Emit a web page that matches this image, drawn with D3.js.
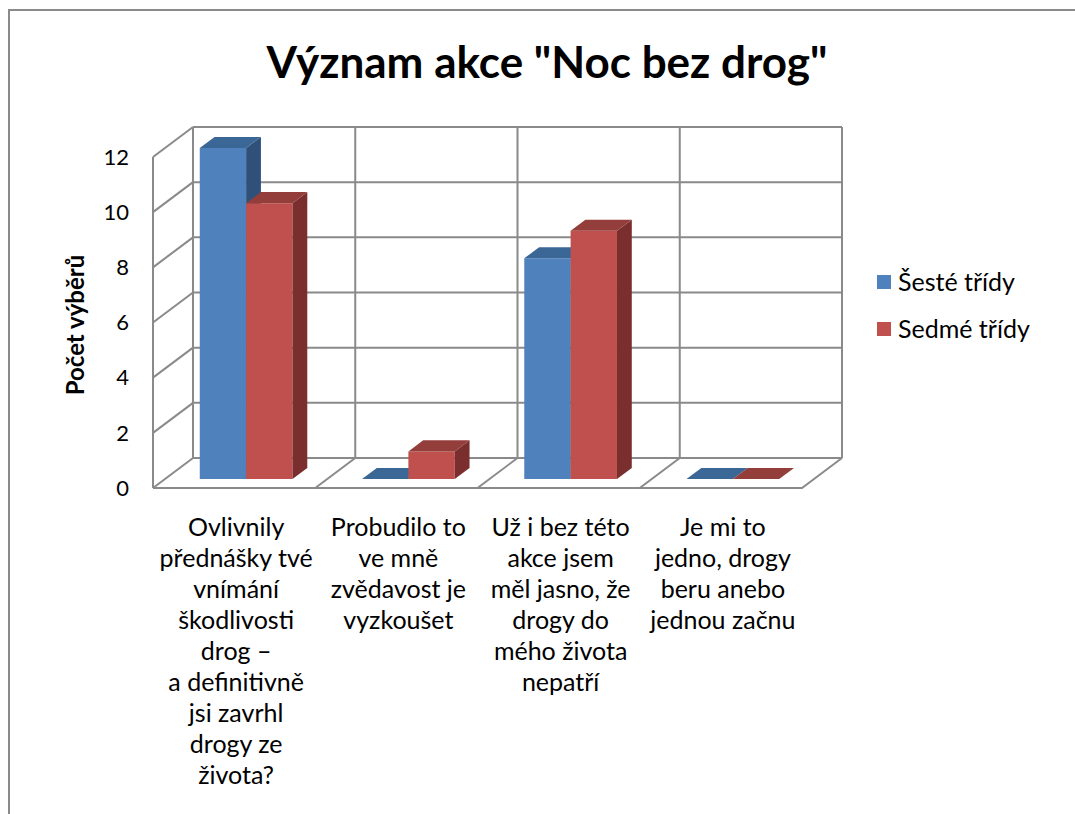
<!DOCTYPE html>
<html lang="cs">
<head>
<meta charset="UTF-8">
<title>Význam akce "Noc bez drog"</title>
<style>
  body { margin: 0; background: #fff; }
  svg { display: block; font-family: Lato, "Open Sans", sans-serif; }
</style>
</head>
<body>
<svg id="chart" width="1075" height="814"></svg>
<script src="https://cdnjs.cloudflare.com/ajax/libs/d3/7.8.5/d3.min.js"></script>
<script>
// ---- data ----
const categories = [
  ["Ovlivnily", "přednášky tvé", "vnímání", "škodlivosti", "drog –", "a definitivně", "jsi zavrhl", "drogy ze", "života?"],
  ["Probudilo to", "ve mně", "zvědavost je", "vyzkoušet"],
  ["Už i bez této", "akce jsem", "měl jasno, že", "drogy do", "mého života", "nepatří"],
  ["Je mi to", "jedno, drogy", "beru anebo", "jednou začnu"]
];
const seriesNames = ["Šesté třídy", "Sedmé třídy"];
const sesteTridy = [12, 0, 8, 0];
const sedmeTridy = [10, 1, 9, 0];
const yTicks = [0, 2, 4, 6, 8, 10, 12];

const series = [
  { name: seriesNames[0], values: sesteTridy, front: "#4f81bd", top: "#3b6797", side: "#2f5179" },
  { name: seriesNames[1], values: sedmeTridy, front: "#c0504d", top: "#943e3c", side: "#7a2f2e" }
];

// ---- layout ----
const svg = d3.select("#chart");
const DX = 40, DY = -30;         // depth offset of the 3D box
const x = d3.scaleLinear().domain([0, categories.length]).range([153, 802]);
const y = d3.scaleLinear().domain([0, 12]).range([488, 157]);
const proj = (c, v, z) => [x(c) + z * DX, y(v) + z * DY];
const grid = "#8a8a8a";

// outer frame
svg.append("rect")
  .attr("x", 9).attr("y", 10).attr("width", 1200).attr("height", 1000)
  .attr("fill", "none").attr("stroke", grid).attr("stroke-width", 2);

// title
svg.append("text")
  .attr("x", 547).attr("y", 78)
  .attr("text-anchor", "middle")
  .attr("font-size", 44).attr("font-weight", "bold")
  .text('Význam akce "Noc bez drog"');

const walls = svg.append("g")
  .attr("fill", "none").attr("stroke", grid).attr("stroke-width", 2);

const line = d3.line();
// back wall horizontal gridlines + left wall diagonals
yTicks.forEach(t => {
  if (t > 0) walls.append("path").attr("d", line([proj(0, t, 1), proj(categories.length, t, 1)]));
  walls.append("path").attr("d", line([proj(0, t, 0), proj(0, t, 1)]));
});
// left wall verticals
walls.append("path").attr("d", line([proj(0, 0, 0), proj(0, 12, 0)]));
// back wall verticals
d3.range(0, categories.length + 1).forEach(c => {
  walls.append("path").attr("d", line([proj(c, 0, 1), proj(c, 12, 1)]));
});
// floor
walls.append("path").attr("d", line([proj(0, 0, 0), proj(categories.length, 0, 0), proj(categories.length, 0, 1)]));
d3.range(1, categories.length).forEach(c => {
  walls.append("path").attr("d", line([proj(c, 0, 0), proj(c, 0, 1)]));
});
walls.append("path").attr("d", line([proj(0, 0, 1), proj(categories.length, 0, 1)]));

// y tick labels
svg.append("g").selectAll("text")
  .data(yTicks).join("text")
  .attr("x", 129).attr("y", d => y(d))
  .attr("dy", "0.35em")
  .attr("text-anchor", "end")
  .attr("font-size", 22)
  .text(d => d);

// y axis title
svg.append("text")
  .attr("transform", "translate(84,325) rotate(-90)")
  .attr("text-anchor", "middle")
  .attr("font-size", 24).attr("font-weight", "bold")
  .text("Počet výběrů");

// bars
const barW = 1 / 3.5;
const z0 = 0.3, z1 = 0.67;
const bars = svg.append("g");
const poly = pts => "M" + pts.map(p => p.join(",")).join("L") + "Z";
categories.forEach((cat, ci) => {
  series.forEach((s, si) => {
    const v = s.values[ci];
    const c0 = ci + (1 - 2 * barW) / 2 + si * barW;
    const c1 = c0 + barW;
    const g = bars.append("g");
    g.append("path").attr("fill", s.front)
      .attr("d", poly([proj(c0, 0, z0), proj(c1, 0, z0), proj(c1, v, z0), proj(c0, v, z0)]));
    g.append("path").attr("fill", s.side)
      .attr("d", poly([proj(c1, 0, z0), proj(c1, 0, z1), proj(c1, v, z1), proj(c1, v, z0)]));
    g.append("path").attr("fill", s.top)
      .attr("d", poly([proj(c0, v, z0), proj(c1, v, z0), proj(c1, v, z1), proj(c0, v, z1)]));
  });
});

// category labels
const catG = svg.append("g").attr("font-size", 25).attr("text-anchor", "middle");
categories.forEach((lines, ci) => {
  const cx = x(ci + 0.5) + 2;
  const t = catG.append("text").attr("x", cx).attr("y", 536);
  lines.forEach((l, li) => {
    t.append("tspan").attr("x", cx).attr("dy", li === 0 ? 0 : 31).text(l);
  });
});

// legend
const legend = svg.append("g").attr("transform", "translate(877,275)");
series.forEach((s, i) => {
  const g = legend.append("g").attr("transform", `translate(0,${i * 47})`);
  g.append("rect").attr("width", 14).attr("height", 14).attr("fill", s.front);
  g.append("text").attr("x", 21).attr("y", 7).attr("dy", "0.35em")
    .attr("font-size", 25).text(s.name);
});
</script>
</body>
</html>
